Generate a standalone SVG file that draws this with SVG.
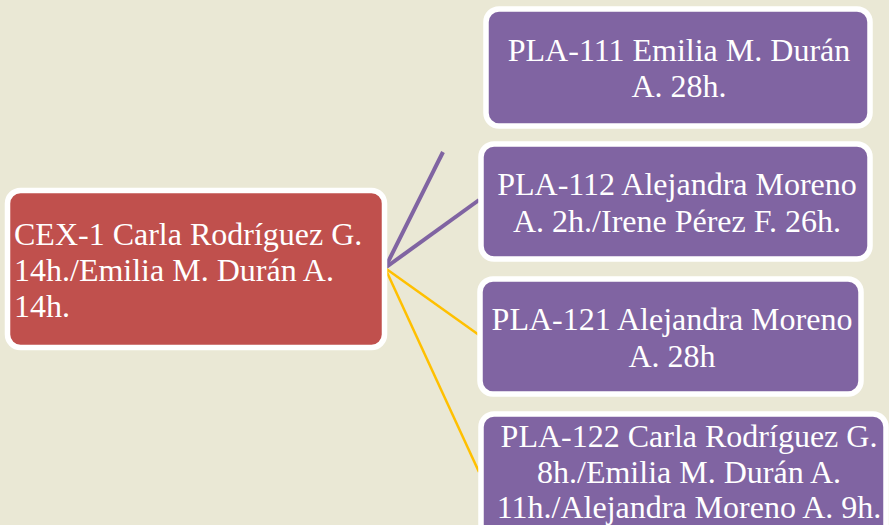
<svg xmlns="http://www.w3.org/2000/svg" width="889" height="525" viewBox="0 0 889 525">
<style>
.box{stroke:#FFFFFF;stroke-width:5.5}
.red{fill:#C0504D}
.pur{fill:#8064A2}
.t{font-family:"Liberation Serif","Times New Roman",serif;font-size:32px;fill:#FFFFFF}
.c{text-anchor:middle}
.lp{stroke:#8064A2;stroke-width:4;fill:none}
.ly{stroke:#FFC000;stroke-width:2.5;fill:none}
</style>
<rect width="889" height="525" fill="#EAE8D5"/>
<g id="connectors">
<line class="lp" x1="385" y1="268" x2="443" y2="152"/>
<line class="lp" x1="385" y1="268" x2="479" y2="200"/>
<line class="ly" x1="385" y1="268" x2="479" y2="335"/>
<line class="ly" x1="385" y1="268" x2="479" y2="472"/>
</g>
<g id="cex1">
<rect class="box red" x="7.5" y="190.5" width="377" height="157" rx="13"/>
<text class="t" x="14" y="245">CEX-1 Carla Rodríguez G.</text>
<text class="t" x="14" y="281">14h./Emilia M. Durán A.</text>
<text class="t" x="14" y="317">14h.</text>
</g>
<g id="pla111">
<rect class="box pur" x="486" y="9" width="384" height="117" rx="13"/>
<text class="t c" x="679" y="61">PLA-111 Emilia M. Durán</text>
<text class="t c" x="679" y="97">A. 28h.</text>
</g>
<g id="pla112">
<rect class="box pur" x="481" y="144" width="389" height="115" rx="13"/>
<text class="t c" x="677" y="195">PLA-112 Alejandra Moreno</text>
<text class="t c" x="677" y="232">A. 2h./Irene Pérez F. 26h.</text>
</g>
<g id="pla121">
<rect class="box pur" x="480" y="279" width="381" height="115" rx="13"/>
<text class="t c" x="672" y="330">PLA-121 Alejandra Moreno</text>
<text class="t c" x="672" y="367">A. 28h</text>
</g>
<g id="pla122">
<rect class="box pur" x="481" y="414" width="405" height="140" rx="13"/>
<text class="t c" x="689" y="447">PLA-122 Carla Rodríguez G.</text>
<text class="t c" x="689" y="483">8h./Emilia M. Durán A.</text>
<text class="t c" x="689" y="518">11h./Alejandra Moreno A. 9h.</text>
</g>
</svg>
